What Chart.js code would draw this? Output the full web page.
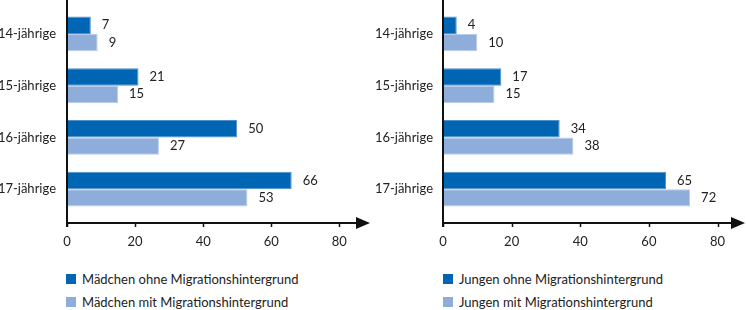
<!DOCTYPE html>
<html lang="de">
<head>
<meta charset="utf-8">
<script src="https://cdn.jsdelivr.net/npm/chart.js@4.4.1/dist/chart.umd.min.js"></script>
<style>
  html, body { margin: 0; padding: 0; background: #fff; }
  body { width: 746px; height: 310px; position: relative; overflow: hidden;
         font-family: Lato, "Noto Sans", sans-serif; color: #222; }
  .panel { position: absolute; top: 0; width: 373px; height: 310px; }
  .chartBox { position: absolute; left: 0; top: 0; width: 373px; height: 255px; }
  .legend { position: absolute; top: 268px; font-size: 13px; }
  .legend div { position: relative; height: 23px; line-height: 23px; padding-left: 16px; white-space: nowrap; }
  .legend span { position: absolute; left: 0; top: 6px; width: 10px; height: 10px; }
</style>
</head>
<body>
<div class="panel" style="left:0">
  <div class="chartBox"><canvas id="chartMaedchen"></canvas></div>
  <div class="legend" id="legendMaedchen" style="left:66px"></div>
</div>
<div class="panel" style="left:373px">
  <div class="chartBox"><canvas id="chartJungen"></canvas></div>
  <div class="legend" id="legendJungen" style="left:70px"></div>
</div>
<script>
// Daten (Prozent)
const ageGroups = ['14-jährige', '15-jährige', '16-jährige', '17-jährige'];
const maedchenOhne = [7, 21, 50, 66];
const maedchenMit = [9, 15, 27, 53];
const jungenOhne = [4, 17, 34, 65];
const jungenMit = [10, 15, 38, 72];
const xTicks = [0, 20, 40, 60, 80];

const darkBlue = '#0066b3';
const lightBlue = '#8eaddb';
const textColor = '#222';
const fontFamily = 'Lato, "Noto Sans", sans-serif';

// Werte rechts neben den Balken
const valueLabels = {
    id: 'valueLabels',
    afterDatasetsDraw(chart) {
        const ctx = chart.ctx;
        ctx.save();
        ctx.font = '13px ' + fontFamily;
        ctx.fillStyle = textColor;
        ctx.textAlign = 'left';
        ctx.textBaseline = 'middle';
        chart.data.datasets.forEach((ds, i) => {
            chart.getDatasetMeta(i).data.forEach((bar, j) => {
                ctx.fillText(String(ds.data[j]), bar.x + 11, bar.y);
            });
        });
        ctx.restore();
    }
};

// Achsen mit Pfeil
const axisArrows = {
    id: 'axisArrows',
    afterDraw(chart) {
        const ctx = chart.ctx;
        const area = chart.chartArea;
        const xScale = chart.scales.x;
        const axisY = area.bottom + 8;
        ctx.save();
        ctx.strokeStyle = '#111';
        ctx.fillStyle = '#111';
        ctx.lineWidth = 2;
        ctx.beginPath();
        ctx.moveTo(area.left, 0);
        ctx.lineTo(area.left, axisY + 4);
        ctx.moveTo(area.left, axisY);
        ctx.lineTo(area.right - 12, axisY);
        ctx.stroke();
        ctx.lineWidth = 1.5;
        xTicks.forEach(v => {
            const x = Math.round(xScale.getPixelForValue(v)) + 0.5;
            ctx.beginPath();
            ctx.moveTo(x, axisY);
            ctx.lineTo(x, axisY + 4);
            ctx.stroke();
        });
        ctx.beginPath();
        ctx.moveTo(area.right, axisY);
        ctx.lineTo(area.right - 14, axisY - 6);
        ctx.lineTo(area.right - 14, axisY + 6);
        ctx.closePath();
        ctx.fill();
        ctx.restore();
    }
};

function noPadding(scale) {
    scale.paddingTop = 0;
    scale.paddingBottom = 0;
    scale.paddingLeft = 0;
    scale.paddingRight = 0;
}

function makeChart(canvasId, legendId, labelOhne, dataOhne, labelMit, dataMit, yWidth, yPad, xMax, padRight) {
    const datasets = [
        { label: labelOhne, data: dataOhne, backgroundColor: darkBlue, borderColor: '#4f8fcc', borderWidth: 1 },
        { label: labelMit, data: dataMit, backgroundColor: lightBlue, borderColor: '#b7cbea', borderWidth: 1 }
    ];
    new Chart(document.getElementById(canvasId), {
        type: 'bar',
        data: { labels: ageGroups, datasets: datasets },
        options: {
            indexAxis: 'y',
            responsive: true,
            maintainAspectRatio: false,
            animation: false,
            layout: { padding: { top: 8, right: padRight, bottom: 0, left: 0 } },
            datasets: { bar: { categoryPercentage: 0.67, barPercentage: 1 } },
            scales: {
                y: {
                    grid: { display: false, drawTicks: false },
                    border: { display: false },
                    ticks: { color: textColor, font: { family: fontFamily, size: 13 }, padding: yPad },
                    afterFit(scale) { scale.width = yWidth; noPadding(scale); }
                },
                x: {
                    min: 0,
                    max: xMax,
                    grid: { display: false, drawTicks: false },
                    border: { display: false },
                    afterBuildTicks(scale) { scale.ticks = xTicks.map(v => ({ value: v })); },
                    ticks: { color: textColor, font: { family: fontFamily, size: 13 }, padding: 19 },
                    afterFit(scale) { scale.height = 40; noPadding(scale); }
                }
            },
            plugins: {
                legend: { display: false },
                tooltip: { enabled: false }
            }
        },
        plugins: [valueLabels, axisArrows]
    });

    const legend = document.getElementById(legendId);
    datasets.forEach(ds => {
        const row = document.createElement('div');
        const box = document.createElement('span');
        box.style.background = ds.backgroundColor;
        row.appendChild(box);
        row.appendChild(document.createTextNode(ds.label));
        legend.appendChild(row);
    });
}

makeChart('chartMaedchen', 'legendMaedchen',
    'Mädchen ohne Migrationshintergrund', maedchenOhne,
    'Mädchen mit Migrationshintergrund', maedchenMit,
    67, 11, 89, 3);
makeChart('chartJungen', 'legendJungen',
    'Jungen ohne Migrationshintergrund', jungenOhne,
    'Jungen mit Migrationshintergrund', jungenMit,
    70, 10, 88, 1);
</script>
</body>
</html>
